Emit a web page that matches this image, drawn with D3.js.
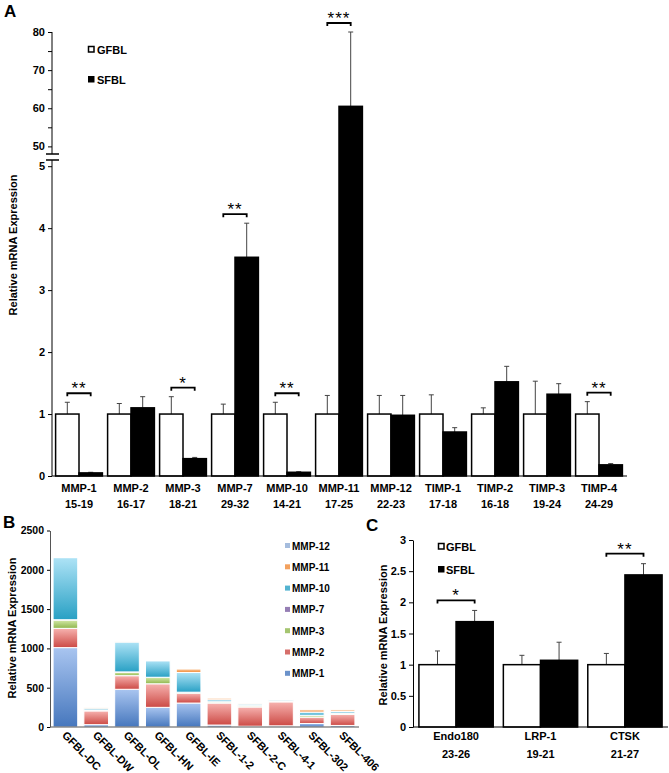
<!DOCTYPE html>
<html><head><meta charset="utf-8">
<script src="https://cdn.jsdelivr.net/npm/d3@7"></script>
<style>
body{margin:0;background:#fff;}
text{font-family:"Liberation Sans",Arial,sans-serif;}
</style></head>
<body>
<svg id="chart" width="669" height="773"></svg>
<script>
// ---------- Panel A data ----------
const genesA = ["MMP-1","MMP-2","MMP-3","MMP-7","MMP-10","MMP-11","MMP-12","TIMP-1","TIMP-2","TIMP-3","TIMP-4"];
const rangesA = ["15-19","16-17","18-21","29-32","14-21","17-25","22-23","17-18","16-18","19-24","24-29"];
const gfblA = [1,1,1,1,1,1,1,1,1,1,1];
const gfblErrA = [0.19,0.17,0.28,0.16,0.19,0.30,0.30,0.31,0.10,0.53,0.20];
const sfblA = [0.05,1.10,0.28,3.53,0.06,60.5,0.98,0.71,1.52,1.32,0.18];
const sfblErrA = [0.01,0.18,0.02,0.55,0.01,19.5,0.32,0.07,0.25,0.17,0.02];
const sigA = ["**","","*","**","**","***","","","","","**"];
const ticksLowA = [0,1,2,3,4,5];
const ticksHighA = [50,55,60,65,70,75,80];

// ---------- Panel B data ----------
const samplesB = ["GFBL-DC","GFBL-DW","GFBL-OL","GFBL-HN","GFBL-IE","SFBL-1-2","SFBL-2-C","SFBL-4-1","SFBL-302","SFBL-406"];
const seriesB = ["MMP-1","MMP-2","MMP-3","MMP-7","MMP-10","MMP-11","MMP-12"];
const mmp1B  = [1010,30,480,250,305,25,10,15,45,20];
const mmp2B  = [245,175,173,300,125,280,245,305,80,140];
const mmp3B  = [105,10,43,80,10,15,15,10,20,15];
const mmp7B  = [5,3,5,3,3,2,2,2,5,3];
const mmp10B = [790,22,380,210,250,25,20,15,40,20];
const mmp11B = [5,5,5,3,45,20,3,3,30,20];
const mmp12B = [0,0,0,0,0,0,0,0,0,0];
const ticksB = [0,500,1000,1500,2000,2500];

// ---------- Panel C data ----------
const genesC = ["Endo180","LRP-1","CTSK"];
const rangesC = ["23-26","19-21","21-27"];
const gfblC = [1,1,1];
const gfblErrC = [0.22,0.15,0.18];
const sfblC = [1.69,1.07,2.44];
const sfblErrC = [0.18,0.29,0.18];
const sigC = ["*","","**"];
const ticksC = [0,0.5,1,1.5,2,2.5,3];

const svg = d3.select("#chart");
const FONT = '"Liberation Sans",Arial,sans-serif';

function panelLabel(t,x,y){
  svg.append("text").attr("x",x).attr("y",y).text(t)
    .attr("font-size",17).attr("font-weight","bold");
}
function yLabel(x,cy){
  svg.append("text").attr("transform",`translate(${x},${cy}) rotate(-90)`)
    .attr("text-anchor","middle").attr("font-size",11).attr("font-weight","bold")
    .text("Relative mRNA Expression");
}
function styleAxis(g,fs){
  g.selectAll("text").attr("font-size",fs||11).attr("font-weight","bold").attr("font-family",FONT).attr("fill","#000");
  g.selectAll("line").attr("stroke","#000");
}

// grouped bar helper
function groupBars(g, genes, x, y, gf, gfE, sf, sfE, sig, sigOffset){
  const bw = x.bandwidth()/2;
  genes.forEach((gene,i)=>{
    const x0 = x(gene);
    const bars = [
      {v:gf[i], e:gfE[i], x:x0, fill:"#fff"},
      {v:sf[i], e:sfE[i], x:x0+bw, fill:"#000"}
    ];
    bars.forEach(b=>{
      const cx = b.x + bw/2;
      g.append("line").attr("x1",cx).attr("x2",cx).attr("y1",y(b.v)).attr("y2",y(b.v+b.e))
        .attr("stroke","#444").attr("stroke-width",1);
      g.append("line").attr("x1",cx-2.5).attr("x2",cx+2.5).attr("y1",y(b.v+b.e)).attr("y2",y(b.v+b.e))
        .attr("stroke","#444").attr("stroke-width",1);
      g.append("rect").attr("x",b.x).attr("width",bw).attr("y",y(b.v)).attr("height",y(0)-y(b.v))
        .attr("fill",b.fill).attr("stroke","#000").attr("stroke-width",1.5);
    });
    if(sig[i]){
      const top = Math.min(y(gf[i]+gfE[i]), y(sf[i]+sfE[i]));
      const by = top - sigOffset;
      const xa = x0 + bw/2, xb = x0 + bw*1.5;
      g.append("path").attr("d",`M${xa},${by+3}V${by}H${xb}V${by+3}`)
        .attr("fill","none").attr("stroke","#000").attr("stroke-width",1.8);
      g.append("text").attr("x",(xa+xb)/2).attr("y",by+1).attr("text-anchor","middle")
        .attr("font-size",17).attr("letter-spacing",1).text(sig[i]);
    }
  });
}

// ================= Panel A =================
panelLabel("A",4,17);
const yA = d3.scaleLinear().domain([0,5.1,48,80]).range([476,160,154,32]);
const xA = d3.scaleBand().domain(genesA).range([53,625]).paddingInner(0.1).paddingOuter(0.05);
const gA = svg.append("g");
const axL = gA.append("g").attr("transform","translate(52,0)")
  .call(d3.axisLeft(yA).tickValues(ticksLowA).tickSize(4).tickSizeOuter(0).tickFormat(d3.format("d")));
axL.select(".domain").remove(); styleAxis(axL);
const axH = gA.append("g").attr("transform","translate(52,0)")
  .call(d3.axisLeft(yA).tickValues(ticksHighA).tickSize(4).tickSizeOuter(0).tickFormat(d=> d%10===0? d : ""));
axH.select(".domain").remove(); styleAxis(axH);
gA.append("line").attr("x1",52).attr("x2",52).attr("y1",yA(80)).attr("y2",yA(48)).attr("stroke","#000");
gA.append("line").attr("x1",52).attr("x2",52).attr("y1",yA(5.1)).attr("y2",yA(0)).attr("stroke","#000");
gA.append("line").attr("x1",46).attr("x2",59).attr("y1",yA(48)).attr("y2",yA(48)).attr("stroke","#000").attr("stroke-width",1.5);
gA.append("line").attr("x1",46).attr("x2",59).attr("y1",yA(5.1)).attr("y2",yA(5.1)).attr("stroke","#000").attr("stroke-width",1.5);
groupBars(gA, genesA, xA, yA, gfblA, gfblErrA, sfblA, sfblErrA, sigA, 9);
gA.append("line").attr("x1",52).attr("x2",627).attr("y1",yA(0)).attr("y2",yA(0)).attr("stroke","#000").attr("stroke-width",1.2);
genesA.forEach((g,i)=>{
  const cx = xA(g)+xA.bandwidth()/2;
  gA.append("text").attr("x",cx).attr("y",492).attr("text-anchor","middle").attr("font-size",11).attr("font-weight","bold").text(g);
  gA.append("text").attr("x",cx).attr("y",508).attr("text-anchor","middle").attr("font-size",11).attr("font-weight","bold").text(rangesA[i]);
});
yLabel(17,245);
gA.append("rect").attr("x",88.5).attr("y",46.5).attr("width",5.5).attr("height",5.5).attr("fill","#fff").attr("stroke","#000").attr("stroke-width",1.5);
gA.append("text").attr("x",97).attr("y",54).attr("font-size",11).attr("font-weight","bold").text("GFBL");
gA.append("rect").attr("x",88).attr("y",76).attr("width",6.5).attr("height",6.5).attr("fill","#000");
gA.append("text").attr("x",97).attr("y",84).attr("font-size",11).attr("font-weight","bold").text("SFBL");

// ================= Panel B =================
panelLabel("B",3,528);
const valsB = [mmp1B,mmp2B,mmp3B,mmp7B,mmp10B,mmp11B,mmp12B];
const colorsB = [
  ["#a9c5f0","#4677bd"],
  ["#f7b3b0","#cc4a45"],
  ["#d3e8a8","#8fb64c"],
  ["#c9b9de","#7b5ea1"],
  ["#aee3f6","#28a0c4"],
  ["#fccaa0","#f08a36"],
  ["#cddcf0","#8eabd4"]
];
const defs = svg.append("defs");
seriesB.forEach((s,k)=>{
  const lg = defs.append("linearGradient").attr("id","gB"+k).attr("x1",0).attr("y1",0).attr("x2",0).attr("y2",1);
  lg.append("stop").attr("offset","0%").attr("stop-color",colorsB[k][0]);
  lg.append("stop").attr("offset","100%").attr("stop-color",colorsB[k][1]);
});
const tableB = samplesB.map((s,i)=>{ const o={sample:s}; seriesB.forEach((n,k)=>o[n]=valsB[k][i]); return o; });
const stackB = d3.stack().keys(seriesB)(tableB);
const xB = d3.scaleBand().domain(samplesB).range([50,358]).paddingInner(0.2).paddingOuter(0.1);
const yB = d3.scaleLinear().domain([0,2500]).range([727,530.5]);
const gB = svg.append("g");
stackB.forEach((layer,k)=>{
  gB.selectAll(null).data(layer).enter().append("rect")
    .attr("x",d=>xB(d.data.sample)).attr("width",xB.bandwidth())
    .attr("y",d=>yB(d[1])).attr("height",d=>Math.max(0,yB(d[0])-yB(d[1])))
    .attr("fill",`url(#gB${k})`).attr("stroke","#fff").attr("stroke-width",1);
});
const axB = gB.append("g").attr("transform","translate(50,0)")
  .call(d3.axisLeft(yB).tickValues(ticksB).tickSize(3).tickSizeOuter(0).tickFormat(d3.format("d")));
styleAxis(axB,10.5); axB.select(".domain").attr("stroke","#555");
gB.append("line").attr("x1",50).attr("x2",359).attr("y1",727).attr("y2",727).attr("stroke","#555").attr("stroke-width",1.2);
samplesB.forEach(s=>{
  const cx = xB(s)+xB.bandwidth()/2 - 4;
  gB.append("text").attr("transform",`translate(${cx},736) rotate(45)`).attr("font-size",11).attr("font-weight","bold").text(s);
});
yLabel(16,628);
seriesB.slice().reverse().forEach((s,j)=>{
  const k = seriesB.length-1-j;
  const ly = 546 + j*21.3;
  gB.append("rect").attr("x",285).attr("y",ly-3).attr("width",5).attr("height",5).attr("fill",colorsB[k][1]).attr("opacity",0.8);
  gB.append("text").attr("x",292).attr("y",ly+3.5).attr("font-size",10).attr("font-weight","bold").text(s);
});

// ================= Panel C =================
panelLabel("C",366,531);
const xC = d3.scaleBand().domain(genesC).range([413,668]).paddingInner(0.12).paddingOuter(0.07);
const yC = d3.scaleLinear().domain([0,3]).range([727,540]);
const gC = svg.append("g");
const axC = gC.append("g").attr("transform","translate(413,0)")
  .call(d3.axisLeft(yC).tickValues(ticksC).tickSize(4).tickSizeOuter(0).tickFormat(d=>d));
styleAxis(axC); axC.select(".domain").attr("stroke","#000");
groupBars(gC, genesC, xC, yC, gfblC, gfblErrC, sfblC, sfblErrC, sigC, 10);
gC.append("line").attr("x1",413).attr("x2",668).attr("y1",727).attr("y2",727).attr("stroke","#000").attr("stroke-width",1.2);
genesC.forEach((g,i)=>{
  const cx = xC(g)+xC.bandwidth()/2;
  gC.append("text").attr("x",cx).attr("y",740).attr("text-anchor","middle").attr("font-size",11).attr("font-weight","bold").text(g);
  gC.append("text").attr("x",cx).attr("y",758).attr("text-anchor","middle").attr("font-size",11).attr("font-weight","bold").text(rangesC[i]);
});
yLabel(387,635);
gC.append("rect").attr("x",438.5).attr("y",543.5).attr("width",5.5).attr("height",5.5).attr("fill","#fff").attr("stroke","#000").attr("stroke-width",1.5);
gC.append("text").attr("x",446).attr("y",551).attr("font-size",11).attr("font-weight","bold").text("GFBL");
gC.append("rect").attr("x",438).attr("y",566).attr("width",6.5).attr("height",6.5).attr("fill","#000");
gC.append("text").attr("x",446).attr("y",574).attr("font-size",11).attr("font-weight","bold").text("SFBL");
</script>
</body></html>
